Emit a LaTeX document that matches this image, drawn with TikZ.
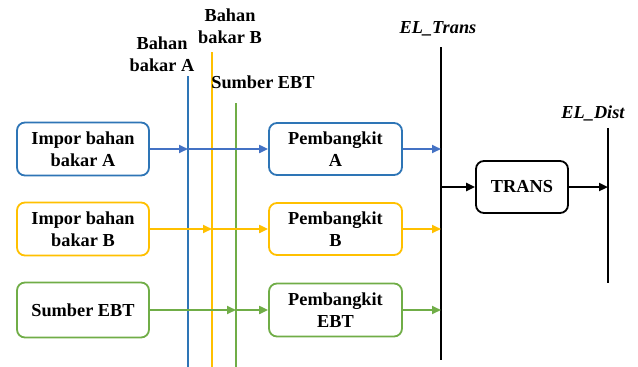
\documentclass[tikz,border=0pt]{standalone}
\usepackage{fontspec}
\setmainfont{Liberation Serif}
\usetikzlibrary{arrows.meta}
\definecolor{cblue}{RGB}{46,117,182}
\definecolor{ablue}{RGB}{68,114,196}
\definecolor{cyel}{RGB}{255,192,0}
\definecolor{cgreen}{RGB}{112,173,71}
\tikzset{
  txt/.style={font=\bfseries\fontsize{18.3}{22}\selectfont, align=center, inner sep=0pt},
  boxn/.style={txt, draw, rounded corners=8pt, line width=1.8pt, fill=white},
  bus/.style={line width=2.6pt},
  cbus/.style={line width=2.4pt},
  arr/.style={line width=2pt, -{Triangle[length=9pt,width=8pt]}},
}
\begin{document}
\begin{tikzpicture}[x=1pt,y=-1pt]
\useasboundingbox (0,0) rectangle (638,367);
% vertical lines
\coordinate (lAt) at (188,76);  \coordinate (lAb) at (188,367);
\coordinate (lBt) at (212,52);  \coordinate (lBb) at (212,367);
\coordinate (lEt) at (236,103); \coordinate (lEb) at (236,367);
\coordinate (eTt) at (441,47);  \coordinate (eTb) at (441,360);
\coordinate (eDt) at (608,128); \coordinate (eDb) at (608,283);
\draw[cbus, cblue] (lAt) -- (lAb);
\draw[cbus, cyel] (lBt) -- (lBb);
\draw[cbus, cgreen] (lEt) -- (lEb);
\draw[bus] (eTt) -- (eTb);
\draw[bus] (eDt) -- (eDb);
% labels
\node[txt] (labA) at (162,54) {Bahan\\bakar A};
\node[txt] (labB) at (230,26) {Bahan\\bakar B};
\node[txt, anchor=base] (labE) at (263,88) {Sumber EBT};
\node[txt, anchor=base, font=\bfseries\itshape\fontsize{18.3}{22}\selectfont] (labT) at (438,33) {EL\_Trans};
\node[txt, anchor=base, font=\bfseries\itshape\fontsize{18.3}{22}\selectfont] (labD) at (593,118) {EL\_Dist};
% boxes
\node[boxn, draw=cblue, minimum width=132pt, minimum height=53pt] (imA) at (83,149) {Impor bahan\\bakar A};
\node[boxn, draw=cyel, minimum width=132pt, minimum height=53pt] (imB) at (83,229) {Impor bahan\\bakar B};
\node[boxn, draw=cgreen, minimum width=132pt, minimum height=55pt] (sE) at (83,310) {Sumber EBT};
\node[boxn, draw=cblue, minimum width=133pt, minimum height=52pt] (pA) at (335.5,149) {Pembangkit\\A};
\node[boxn, draw=cyel, minimum width=133pt, minimum height=52pt] (pB) at (335.5,229) {Pembangkit\\B};
\node[boxn, draw=cgreen, minimum width=133pt, minimum height=53pt] (pE) at (335.5,310) {Pembangkit\\EBT};
\node[boxn, draw=black, minimum width=92pt, minimum height=52pt] (tr) at (522,187) {TRANS};
% arrows
\draw[arr, ablue] (imA.east) -- (imA.east -| lAt);
\draw[arr, ablue] (imA.east -| lAt) -- (pA.west);
\draw[arr, ablue] (pA.east) -- (pA.east -| eTt);
\draw[arr, cyel] (imB.east) -- (imB.east -| lBt);
\draw[arr, cyel] (imB.east -| lBt) -- (pB.west);
\draw[arr, cyel] (pB.east) -- (pB.east -| eTt);
\draw[arr, cgreen] (sE.east) -- (sE.east -| lEt);
\draw[arr, cgreen] (sE.east -| lEt) -- (pE.west);
\draw[arr, cgreen] (pE.east) -- (pE.east -| eTt);
\draw[arr, black, line width=2.4pt] (tr.west -| eTt) -- (tr.west);
\draw[arr, black, line width=2.4pt] (tr.east) -- (tr.east -| eDt);
\end{tikzpicture}
\end{document}
